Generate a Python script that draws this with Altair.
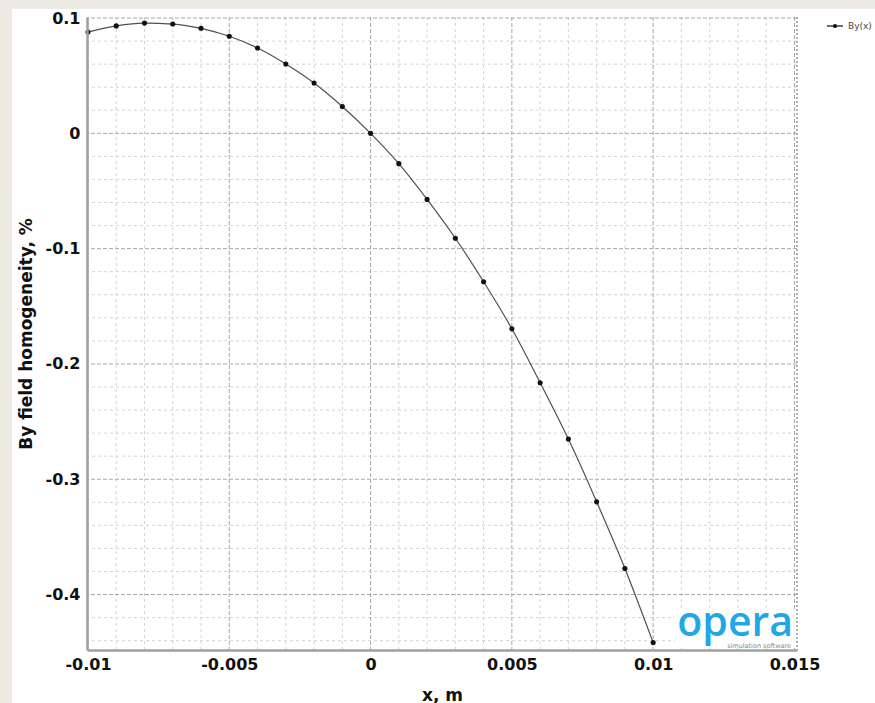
import altair as alt
import pandas as pd

# ---- data ----
x_m = [-0.010, -0.009, -0.008, -0.007, -0.006, -0.005, -0.004, -0.003, -0.002, -0.001,
       0.000, 0.001, 0.002, 0.003, 0.004, 0.005, 0.006, 0.007, 0.008, 0.009, 0.010]
by_hom = [0.0878, 0.0932, 0.0956, 0.0948, 0.0911, 0.0842, 0.0740, 0.0602, 0.0437, 0.0233,
          0.0000, -0.0263, -0.0573, -0.0910, -0.1287, -0.1695, -0.2163, -0.2652, -0.3196, -0.3774, -0.4417]

x_major = [-0.01, -0.005, 0, 0.005, 0.01, 0.015]
x_minor = [round(-0.01 + 0.001 * i, 3) for i in range(26)]
y_major = [0.1, 0, -0.1, -0.2, -0.3, -0.4]
y_minor = [round(0.1 - 0.02 * i, 2) for i in range(28)]

series_name = "By(x)"
x_title = "x, m"
y_title = "By field homogeneity, %"

X_DOMAIN = [-0.010035, 0.01509]
Y_DOMAIN = [-0.4481, 0.1009]
W, H = 710, 633
FONT = "DejaVu Sans"
LABEL_EXPR = "'' + datum.value"

df = pd.DataFrame({"x": x_m, "y": by_hom})
xs = alt.Scale(domain=X_DOMAIN, nice=False, zero=False)
ys = alt.Scale(domain=Y_DOMAIN, nice=False, zero=False)

x_axis = alt.Axis(values=x_major, labelExpr=LABEL_EXPR, labelFont=FONT, labelFontSize=16, labelFontWeight="bold",
                  labelColor="#111", labelPadding=6, ticks=False, grid=False,
                  domainColor="#a0a0a0", domainWidth=2.5, zindex=2,
                  title=x_title, titleFont=FONT, titleFontSize=17, titleFontWeight="bold", titleColor="#111",
                  titleBaseline="alphabetic", titleY=50, labelFlush=False, labelOverlap=False)
y_axis = alt.Axis(values=y_major, labelExpr=LABEL_EXPR, labelFont=FONT, labelFontSize=16, labelFontWeight="bold",
                  labelColor="#111", labelPadding=7, ticks=False, grid=False,
                  domainColor="#a0a0a0", domainWidth=2.5, zindex=2,
                  title=y_title, titleFont=FONT, titleFontSize=17, titleFontWeight="bold", titleColor="#111",
                  titleBaseline="alphabetic", titleX=-56, titleY=H / 2, titleAngle=270,
                  labelFlush=False, labelOverlap=False)

one = pd.DataFrame({"a": [0]})
white = alt.Chart(one).mark_rect(color="white").encode(
    x=alt.value(-75), x2=alt.value(W + 200), y=alt.value(-8), y2=alt.value(H + 200))

xminor_df = pd.DataFrame({"v": [v for v in x_minor if all(abs(v - m) > 1e-9 for m in x_major)]})
yminor_df = pd.DataFrame({"v": [v for v in y_minor if all(abs(v - m) > 1e-9 for m in y_major)]})

grid_minor_x = alt.Chart(xminor_df).mark_rule(color="#d4d4d4", strokeDash=[3, 3], strokeWidth=1).encode(
    x=alt.X("v:Q", scale=xs, axis=x_axis))
grid_minor_y = alt.Chart(yminor_df).mark_rule(color="#d4d4d4", strokeDash=[3, 3], strokeWidth=1).encode(
    y=alt.Y("v:Q", scale=ys, axis=y_axis))
grid_major_x = alt.Chart(pd.DataFrame({"v": x_major})).mark_rule(color="#a8a8a8", strokeDash=[4, 2], strokeWidth=1).encode(
    x=alt.X("v:Q", scale=xs, axis=x_axis))
grid_major_y = alt.Chart(pd.DataFrame({"v": y_major})).mark_rule(color="#a8a8a8", strokeDash=[4, 2], strokeWidth=1).encode(
    y=alt.Y("v:Q", scale=ys, axis=y_axis))

right_frame = alt.Chart(one).mark_rule(color="#9a9a9a", strokeDash=[2, 2], strokeWidth=1.5).encode(
    x=alt.value(W), y=alt.value(0), y2=alt.value(H))

line = alt.Chart(df).mark_line(color="#505050", strokeWidth=1.2, interpolate="monotone").encode(
    x=alt.X("x:Q", scale=xs, axis=x_axis),
    y=alt.Y("y:Q", scale=ys, axis=y_axis))
pts = alt.Chart(df).mark_point(filled=True, color="#111111", size=26, opacity=1, shape="circle").encode(
    x=alt.X("x:Q", scale=xs, axis=x_axis), y=alt.Y("y:Q", scale=ys, axis=y_axis))

# legend (top right)
leg_line = alt.Chart(one).mark_rule(color="#222", strokeWidth=1.3).encode(
    x=alt.value(740), x2=alt.value(756), y=alt.value(9))
leg_pt = alt.Chart(one).mark_point(filled=True, color="#111", size=18, opacity=1).encode(
    x=alt.value(748), y=alt.value(9))
leg_txt = alt.Chart(one).mark_text(text=series_name, font=FONT, fontSize=9, color="#444",
                                   align="left", baseline="middle").encode(x=alt.value(761), y=alt.value(9))

# logo
logo_bg = alt.Chart(one).mark_rect(color="white").encode(
    x=alt.value(588), x2=alt.value(W - 1), y=alt.value(594), y2=alt.value(H - 2))
logo = alt.Chart(one).mark_text(text="opera", font="Open Sans", fontSize=41, fontWeight=600,
                                color="#1FA8E5", align="right", baseline="alphabetic").encode(
    x=alt.value(706), y=alt.value(619))
logo_sub = alt.Chart(one).mark_text(text="simulation software", font=FONT, fontSize=6.5, color="#888",
                                    align="right", baseline="alphabetic").encode(
    x=alt.value(704), y=alt.value(631))

chart = alt.layer(
    white, grid_minor_x, grid_minor_y, grid_major_x, grid_major_y, right_frame,
    logo_bg, logo, logo_sub, line, pts, leg_line, leg_pt, leg_txt
).properties(
    width=W, height=H,
    autosize=alt.AutoSizeParams(type="none"),
    padding={"left": 87, "top": 17, "right": 875 - 87 - W, "bottom": 703 - 17 - H},
    background="#EDEAE3",
).configure_view(stroke=None)

chart.save("out.html", embed_options={"renderer": "svg", "actions": False})
